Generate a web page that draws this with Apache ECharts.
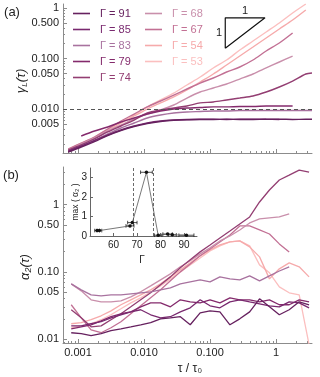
<!DOCTYPE html>
<html>
<head>
<meta charset="utf-8">
<script src="https://cdn.jsdelivr.net/npm/echarts@6/dist/echarts.min.js"></script>
<style>
html,body{margin:0;padding:0;background:#fff;}
#chart{width:320px;height:377px;}
</style>
</head>
<body>
<div id="chart"></div>
<script>
var FONT = 'Liberation Sans, Arial, sans-serif';

// Γ of each run and its colour
var gammas = [91, 85, 83, 79, 74, 68, 67, 54, 53];
var colors = ['#66215f', '#79296f', '#a8729f', '#842a6c', '#933e72', '#c98fab', '#c27094', '#f6aaab', '#fbbfbf'];

// (a) gamma_L(tau)
var tauA = [0.00071, 0.00112, 0.00178, 0.00282, 0.00447, 0.00708, 0.0112, 0.0178, 0.0282, 0.0447, 0.0708, 0.112, 0.178, 0.282, 0.447, 0.708, 1.12, 1.78, 2.82, 3.5];
var gL91 = [0.00141, 0.00177, 0.00227, 0.00299, 0.00375, 0.00451, 0.00516, 0.00566, 0.00598, 0.00614, 0.0062, 0.00622, 0.00625, 0.0062, 0.00622, 0.00625, 0.00628, 0.00622, 0.00625, 0.00625];
var gL85 = [0.00147, 0.00185, 0.00238, 0.00306, 0.00384, 0.00461, 0.00528, 0.00579, 0.00605, 0.00619, 0.00625, 0.00625, 0.00622, 0.00625, 0.00628, 0.00625, 0.00622];
var gL83 = [0.00147, 0.00185, 0.00243, 0.0032, 0.00421, 0.00528, 0.00663, 0.0076, 0.00833, 0.00872, 0.00892, 0.00913, 0.00913, 0.00934, 0.00934, 0.00934, 0.00934, 0.00934, 0.00934, 0.00934];
var gL79 = [null, 0.00292, 0.00367, 0.0044, 0.00553, 0.00663, 0.00796, 0.00913, 0.01, 0.0105, 0.0107, 0.011, 0.011, 0.0112, 0.0112, 0.0115, 0.0115, 0.0115];
var gL74 = [0.00154, 0.00194, 0.00255, 0.00351, 0.00461, 0.00605, 0.00833, 0.00955, 0.0105, 0.0115, 0.0132, 0.0138, 0.0151, 0.0165, 0.0181, 0.0217, 0.0273, 0.0358, 0.0493, 0.0516];
var gL68 = [0.00154, 0.00203, 0.00267, 0.00367, 0.00482, 0.00634, 0.00796, 0.00955, 0.012, 0.0165, 0.0217, 0.0261, 0.0313, 0.0392, 0.0493, 0.0649, 0.0853, 0.112];
var gL67 = [0.00161, 0.00212, 0.00279, 0.00402, 0.00579, 0.00796, 0.011, 0.0144, 0.0189, 0.0249, 0.0327, 0.0411, 0.0541, 0.0679, 0.0933, 0.141, 0.203, 0.32];
var gL54 = [0.00154, 0.00203, 0.00267, 0.00384, 0.00528, 0.00727, 0.01, 0.0132, 0.0173, 0.0238, 0.0343, 0.0493, 0.0743, 0.112, 0.169, 0.255, 0.384, 0.578, 0.912];
var gL53 = [0.00161, 0.00212, 0.00279, 0.00402, 0.00553, 0.0076, 0.011, 0.0151, 0.0207, 0.0299, 0.043, 0.0649, 0.0933, 0.147, 0.222, 0.335, 0.505, 0.796, 1.2];
var slopeTri = [[0.17, 0.16], [0.17, 0.64], [0.68, 0.64], [0.17, 0.16]];

// (b) alpha_2(tau)
var tauB = [0.00079, 0.00112, 0.00158, 0.00224, 0.00316, 0.00447, 0.00631, 0.00891, 0.0126, 0.0178, 0.0251, 0.0355, 0.0501, 0.0708, 0.1, 0.141, 0.2, 0.282, 0.398, 0.562, 0.794, 1.12, 1.58, 2.24, 3.16];
var a2_91 = [0.0125, 0.0121, 0.0113, 0.0121, 0.0134, 0.0143, 0.0153, 0.0164, 0.0176, 0.0201, 0.0208, 0.0216, 0.0164, 0.0247, 0.0264, 0.0255, 0.0164, 0.0201, 0.0255, 0.0398, 0.0303, 0.0231, 0.0274, 0.0359, 0.0325];
var a2_85 = [0.0158, 0.0158, 0.017, 0.0182, 0.0208, 0.0231, 0.0255, 0.0274, 0.0231, 0.0208, 0.0216, 0.0255, 0.0293, 0.0385, 0.0314, 0.0293, 0.0359, 0.0385, 0.0359, 0.0336, 0.0314, 0.0303, 0.0359, 0.0347, 0.0293];
var a2_83 = [0.0664, 0.0541, 0.0456, 0.0441, 0.0456, 0.0456, 0.0472, 0.0489, 0.0506, 0.0541, 0.0579, 0.0664, 0.0711, 0.0761, 0.0711, 0.0843, 0.0787, 0.0761, 0.0872, 0.0736, 0.0872, 0.103, 0.119];
var a2_79 = [0.0143, 0.0153, 0.0164, 0.0188, 0.0216, 0.0239, 0.0255, 0.0303, 0.0347, 0.0347, 0.0303, 0.0385, 0.0359, 0.0347, 0.0385, 0.0347, 0.0412, 0.0385, 0.0385, 0.0359, 0.0385, 0.0325, 0.0325, 0.0385, 0.0359];
var a2_74 = [0.0274, 0.0208, 0.0153, 0.0158, 0.0195, 0.0239, 0.0303, 0.0385, 0.0489, 0.0642, 0.0843, 0.115, 0.151, 0.198, 0.251, 0.319, 0.405, 0.514, 0.653, 1.09, 1.64, 2.31, 2.73, 3.24, 3.03];
var a2_68 = [0.0664, 0.0523, 0.0385, 0.0359, 0.0359, 0.0372, 0.0426, 0.0506, 0.062, 0.0761, 0.0934, 0.119, 0.146, 0.185, 0.227, 0.288, 0.341, 0.419, 0.532, 0.61, 0.631, 0.653, 0.723];
var a2_67 = [0.0325, 0.0208, 0.0138, 0.0125, 0.0148, 0.0182, 0.0239, 0.0314, 0.0412, 0.0541, 0.0736, 0.1, 0.131, 0.173, 0.219, 0.278, 0.353, 0.48, 0.48, 0.419, 0.365, 0.26, 0.198];
var a2_54 = [0.017, 0.0176, 0.0195, 0.0223, 0.0264, 0.0325, 0.0385, 0.0456, 0.0541, 0.0664, 0.0843, 0.107, 0.136, 0.173, 0.212, 0.251, 0.278, 0.288, 0.235, 0.167, 0.0787, 0.111, 0.136, 0.119, 0.0843];
var a2_53 = [0.0148, 0.0158, 0.017, 0.0195, 0.0231, 0.0283, 0.0347, 0.0412, 0.0506, 0.062, 0.0787, 0.1, 0.127, 0.161, 0.205, 0.243, 0.278, 0.288, 0.243, 0.127, 0.097, 0.06, 0.0489, 0.0456, 0.0083];

// inset: max(alpha_2) vs Γ
var inGamma = [53, 54, 67, 68, 74, 79, 83, 85, 91];
var inMax = [0.28, 0.28, 0.52, 0.69, 3.28, 0.04, 0.1, 0.06, 0.04];
var inErr = [1, 1, 1.7, 2, 2.5, 1.6, 2, 1.7, 3.2];
var inLines = [68.6, 76.8];

// ticks and labels
var xMajor = [0.001, 0.01, 0.1, 1];
var xMajorLbl = ['0.001', '0.010', '0.100', '1'];
var yAMajor = [0.005, 0.01, 0.05, 0.1, 0.5, 1];
var yAMajorLbl = ['0.005', '0.010', '0.050', '0.100', '0.500', '1'];
var yBMajor = [0.01, 0.05, 0.1, 0.5, 1];
var yBMajorLbl = ['0.01', '0.05', '0.10', '0.50', '1'];
var inXTicks = [60, 70, 80, 90];
var inYTicks = [0, 1, 2, 3];

function minors(decades) {
    var out = [];
    decades.forEach(function (d) {
        for (var k = 2; k <= 9; k++) out.push(+(d * k).toPrecision(3));
    });
    return out;
}
var xMinor = minors([0.0001, 0.001, 0.01, 0.1, 1]);
var yMinor = minors([0.001, 0.01, 0.1, 1]);

function pairs(xs, ys) {
    var out = [];
    ys.forEach(function (v, i) { if (v != null) out.push([xs[i], v]); });
    return out;
}
function lookup(vals, lbls) {
    return function (v) {
        for (var i = 0; i < vals.length; i++) {
            if (Math.abs(Math.log(v / vals[i])) < 0.01) return lbls[i];
        }
        return '';
    };
}

var axisCol = '#8c8c8c';
function logAxis(grid, pos, min, max, ticks, len, labels, lbls) {
    return {
        type: 'log', gridIndex: grid, position: pos, offset: 0, min: min, max: max,
        axisLine: {show: !!labels || len > 3, onZero: false, lineStyle: {color: axisCol, width: 1}},
        axisTick: {inside: true, length: len, customValues: ticks, lineStyle: {color: axisCol}},
        axisLabel: labels ? {show: true, customValues: ticks, formatter: lookup(ticks, lbls), margin: 4,
            fontSize: 11, color: '#222', fontFamily: FONT} : {show: false},
        splitLine: {show: false}, minorTick: {show: false}
    };
}

var seriesList = [];
var gLData = [gL91, gL85, gL83, gL79, gL74, gL68, gL67, gL54, gL53];
var a2Data = [a2_91, a2_85, a2_83, a2_79, a2_74, a2_68, a2_67, a2_54, a2_53];
for (var k = gammas.length - 1; k >= 0; k--) {
    seriesList.push({
        type: 'line', name: 'Γ = ' + gammas[k], xAxisIndex: 0, yAxisIndex: 0,
        data: pairs(tauA, gLData[k]), symbol: 'none', smooth: 0.3,
        lineStyle: {color: colors[k], width: 1.4}, itemStyle: {color: colors[k]}, z: 3
    });
    seriesList.push({
        type: 'line', name: 'Γ = ' + gammas[k], xAxisIndex: 2, yAxisIndex: 2,
        data: pairs(tauB, a2Data[k]), symbol: 'none',
        lineStyle: {color: colors[k], width: 1.3}, itemStyle: {color: colors[k]}, z: 3
    });
}
// dashed reference at 0.01 and slope triangle in (a)
seriesList.push({
    type: 'line', name: 'slope', xAxisIndex: 0, yAxisIndex: 0, data: slopeTri, symbol: 'none',
    lineStyle: {color: '#111', width: 1.2}, z: 4,
    markLine: {silent: true, symbol: 'none', label: {show: false},
        lineStyle: {color: '#555', width: 1, type: [4, 3]}, data: [{yAxis: 0.01}]}
});
// inset
seriesList.push({
    type: 'line', name: 'inset', xAxisIndex: 4, yAxisIndex: 4,
    data: pairs(inGamma, inMax), symbol: 'circle', symbolSize: 3.5,
    itemStyle: {color: '#111'}, lineStyle: {color: '#555', width: 0.8}, z: 5,
    markLine: {silent: true, symbol: 'none', label: {show: false},
        lineStyle: {color: '#444', width: 0.8, type: [3, 2]},
        data: inLines.map(function (g) { return {xAxis: g}; })}
});
seriesList.push({
    type: 'custom', name: 'err', xAxisIndex: 4, yAxisIndex: 4, z: 5,
    data: inGamma.map(function (g, i) { return [g, inMax[i], inErr[i]]; }),
    encode: {x: 0, y: 1},
    renderItem: function (params, api) {
        var y = api.value(1);
        var p1 = api.coord([api.value(0) - api.value(2), y]);
        var p2 = api.coord([api.value(0) + api.value(2), y]);
        var st = {stroke: '#222', lineWidth: 0.8};
        return {type: 'group', children: [
            {type: 'line', shape: {x1: p1[0], y1: p1[1], x2: p2[0], y2: p2[1]}, style: st},
            {type: 'line', shape: {x1: p1[0], y1: p1[1] - 1.8, x2: p1[0], y2: p1[1] + 1.8}, style: st},
            {type: 'line', shape: {x1: p2[0], y1: p2[1] - 1.8, x2: p2[0], y2: p2[1] + 1.8}, style: st}
        ]};
    }
});

function legendData(list) {
    return list.map(function (g) {
        var k = gammas.indexOf(g);
        return {name: 'Γ = ' + g, textStyle: {color: colors[k]}};
    });
}
function legendBox(left, list) {
    return {
        orient: 'vertical', left: left, top: 8, padding: 0, itemGap: 5,
        itemWidth: 17, itemHeight: 1.6, icon: 'rect', selectedMode: false,
        textStyle: {fontSize: 11, fontFamily: FONT, padding: [0, 0, 0, 5]},
        data: legendData(list)
    };
}

var chart = echarts.init(document.getElementById('chart'));
chart.setOption({
    animation: false,
    backgroundColor: '#fff',
    textStyle: {fontFamily: FONT},
    legend: [legendBox(73, [91, 85, 83, 79, 74]), legendBox(145, [68, 67, 54, 53])],
    grid: [
        {left: 63, top: 4, width: 249, height: 149},
        {left: 63, top: 167, width: 249, height: 176},
        {left: 90, top: 168, width: 107, height: 68}
    ],
    xAxis: [
        logAxis(0, 'bottom', 0.000593, 3.5, xMajor, 4),
        logAxis(0, 'bottom', 0.000593, 3.5, xMinor, 2),
        logAxis(1, 'bottom', 0.000593, 3.5, xMajor, 4, true, xMajorLbl),
        logAxis(1, 'bottom', 0.000593, 3.5, xMinor, 2),
        {type: 'value', gridIndex: 2, position: 'bottom', min: 50, max: 95.5,
            axisLine: {onZero: false, lineStyle: {color: '#666'}},
            axisTick: {inside: true, length: 3, customValues: inXTicks, lineStyle: {color: '#666'}},
            axisLabel: {customValues: inXTicks, fontSize: 10, color: '#222', margin: 4, fontFamily: FONT},
            splitLine: {show: false}}
    ],
    yAxis: [
        logAxis(0, 'left', 0.001346, 1.2, yAMajor, 4, true, yAMajorLbl),
        logAxis(0, 'left', 0.001346, 1.2, yMinor, 2),
        logAxis(1, 'left', 0.0088, 3.6, yBMajor, 4, true, yBMajorLbl),
        logAxis(1, 'left', 0.0088, 3.6, yMinor, 2),
        {type: 'value', gridIndex: 2, position: 'left', min: 0, max: 3.5,
            axisLine: {show: true, onZero: false, lineStyle: {color: '#666'}},
            axisTick: {show: true, inside: true, length: 3, customValues: inYTicks, lineStyle: {color: '#666'}},
            axisLabel: {customValues: inYTicks, fontSize: 10, color: '#222', margin: 3, fontFamily: FONT},
            splitLine: {show: false}}
    ],
    graphic: [
        {type: 'text', x: 12, y: 12, style: {text: '(a)', fontSize: 13, fontFamily: FONT, fill: '#222', align: 'center', verticalAlign: 'middle'}},
        {type: 'text', x: 11, y: 175, style: {text: '(b)', fontSize: 13, fontFamily: FONT, fill: '#222', align: 'center', verticalAlign: 'middle'}},
        {type: 'text', x: 21, y: 81, rotation: Math.PI / 2, style: {
            text: '{g|γ}{s|L}{g|(τ)}', align: 'center', verticalAlign: 'middle', fill: '#222',
            rich: {g: {fontSize: 13, fontStyle: 'italic', fontFamily: FONT, lineHeight: 16, fill: '#222'},
                   s: {fontSize: 8, fontStyle: 'italic', fontFamily: FONT, lineHeight: 10, verticalAlign: 'bottom', fill: '#222'}}}},
        {type: 'text', x: 25, y: 267, rotation: Math.PI / 2, style: {
            text: 'α₂(τ)', fontSize: 13, fontStyle: 'italic', fontFamily: FONT, fill: '#222', align: 'center', verticalAlign: 'middle'}},
        {type: 'text', x: 190, y: 369, style: {text: 'τ / τ₀', fontSize: 12, fontFamily: FONT, fill: '#222', align: 'center', verticalAlign: 'middle'}},
        {type: 'text', x: 245, y: 11, style: {text: '1', fontSize: 11, fontFamily: FONT, fill: '#222', align: 'center', verticalAlign: 'middle'}},
        {type: 'text', x: 219, y: 33, style: {text: '1', fontSize: 11, fontFamily: FONT, fill: '#222', align: 'center', verticalAlign: 'middle'}},
        {type: 'text', x: 76, y: 202, rotation: Math.PI / 2, style: {text: 'max ( α₂ )', fontSize: 8.5, fontFamily: FONT, fill: '#222', align: 'center', verticalAlign: 'middle'}},
        {type: 'text', x: 142, y: 260, style: {text: 'Γ', fontSize: 10, fontFamily: FONT, fill: '#222', align: 'center', verticalAlign: 'middle'}}
    ],
    series: seriesList
});
</script>
</body>
</html>
